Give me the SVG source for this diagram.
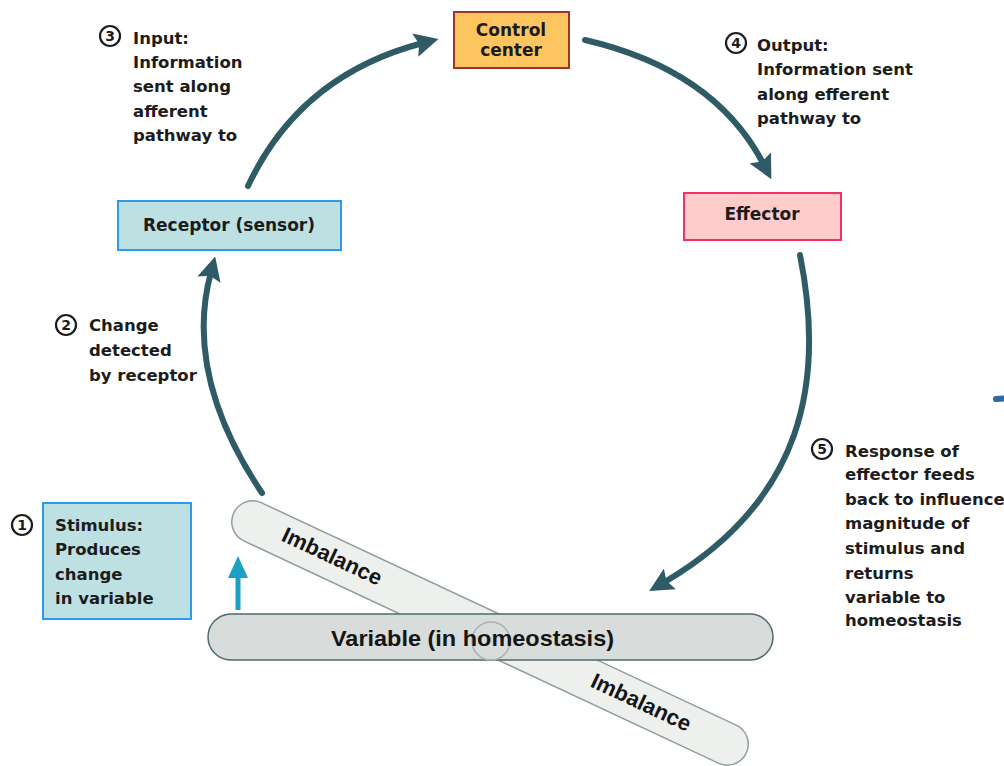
<svg xmlns="http://www.w3.org/2000/svg" width="1004" height="766" viewBox="0 0 1004 766">
<style>
.t{font-family:"DejaVu Sans",Verdana,sans-serif;font-weight:bold;font-size:16.5px;fill:#1c1c1c}
.lbl{font-family:"DejaVu Sans",Verdana,sans-serif;font-weight:bold;font-size:17px;fill:#1c1c1c;text-anchor:middle}
.num{fill:#fff;stroke:#1c1c1c;stroke-width:2.2}
.numt{font-family:"DejaVu Sans",sans-serif;font-weight:bold;font-size:14px;fill:#1c1c1c;text-anchor:middle}
.arc{fill:none;stroke:#2e5b66;stroke-width:6;stroke-linecap:round}
.bar{font-family:"Liberation Sans",Arial,sans-serif;font-weight:bold;fill:#151515}
</style>
<defs>
<marker id="ah" viewBox="0 0 24 24" markerWidth="24" markerHeight="24" markerUnits="userSpaceOnUse" refX="8" refY="12" orient="auto">
<path d="M0,0 L24,12 L0,24 L4,12 Z" fill="#2e5b66"/>
</marker>
</defs>
<rect width="1004" height="766" fill="#fff"/>

<g id="imbalance">
<rect x="207" y="612" width="566" height="42" rx="21" transform="rotate(25.1 490 633)" fill="#eef0ee" stroke="#8f9e9c" stroke-width="1.5"/>
<text class="bar" font-size="22" text-anchor="middle" transform="translate(329 563) rotate(25.1)">Imbalance</text>
<text class="bar" font-size="22" text-anchor="middle" transform="translate(638 709) rotate(25.1)">Imbalance</text>
</g>

<g id="variable">
<rect x="208" y="614" width="565" height="46" rx="23" fill="#d8dcda" stroke="#4e6a70" stroke-width="1.5"/>
<circle cx="491" cy="641" r="19" fill="none" stroke="#a9b2b0" stroke-width="1.5"/>
<text class="bar" x="331" y="646" font-size="22" textLength="283" lengthAdjust="spacingAndGlyphs">Variable (in homeostasis)</text>
</g>

<g id="connectors">
<path class="arc" d="M262,493 Q183,375 211,272" marker-end="url(#ah)"/>
<path class="arc" d="M248,186 Q300,75 423,43" marker-end="url(#ah)"/>
<path class="arc" d="M585,40 Q715,70 764,165" marker-end="url(#ah)"/>
<path class="arc" d="M800,255 C825,380 805,500 663,583" marker-end="url(#ah)"/>
<line x1="238" y1="610" x2="238" y2="575" stroke="#1ba1c6" stroke-width="5"/>
<polygon points="228,578 238,556 248,578" fill="#1ba1c6"/>
<line x1="996" y1="399" x2="1004" y2="398.5" stroke="#2f6aa0" stroke-width="6" stroke-linecap="round"/>
</g>

<g id="control-center">
<rect x="454" y="12" width="115" height="56" fill="#fdc560" stroke="#a3312a" stroke-width="2"/>
<text class="lbl" x="511" y="36">Control</text>
<text class="lbl" x="511" y="56">center</text>
</g>

<g id="receptor">
<rect x="118" y="201" width="223" height="49" fill="#bde0e3" stroke="#2e9be8" stroke-width="2"/>
<text class="lbl" x="229" y="231" font-size="16.5">Receptor (sensor)</text>
</g>

<g id="effector">
<rect x="684" y="193" width="157" height="47" fill="#ffcccc" stroke="#f0306a" stroke-width="2"/>
<text class="lbl" x="762" y="220">Effector</text>
</g>

<g id="stimulus">
<circle class="num" cx="22" cy="525" r="10"/>
<text class="numt" x="22" y="530">1</text>
<rect x="43" y="503" width="148" height="116" fill="#bde0e3" stroke="#2e9be8" stroke-width="2"/>
<text class="t" x="55" y="531" font-size="16">Stimulus:</text>
<text class="t" x="55" y="555" font-size="16">Produces</text>
<text class="t" x="55" y="580" font-size="16">change</text>
<text class="t" x="55" y="604" font-size="16">in variable</text>
</g>

<g id="step2">
<circle class="num" cx="66" cy="325" r="10"/>
<text class="numt" x="66" y="330">2</text>
<text class="t" x="89" y="331">Change</text>
<text class="t" x="89" y="356">detected</text>
<text class="t" x="89" y="381">by receptor</text>
</g>

<g id="step3">
<circle class="num" cx="110" cy="36" r="10"/>
<text class="numt" x="110" y="41">3</text>
<text class="t" x="133" y="44">Input:</text>
<text class="t" x="133" y="68">Information</text>
<text class="t" x="133" y="92">sent along</text>
<text class="t" x="133" y="117">afferent</text>
<text class="t" x="133" y="141">pathway to</text>
</g>

<g id="step4">
<circle class="num" cx="736" cy="43" r="10"/>
<text class="numt" x="736" y="48">4</text>
<text class="t" x="757" y="51">Output:</text>
<text class="t" x="757" y="75">Information sent</text>
<text class="t" x="757" y="100">along efferent</text>
<text class="t" x="757" y="124">pathway to</text>
</g>

<g id="step5">
<circle class="num" cx="822" cy="449" r="10"/>
<text class="numt" x="822" y="454">5</text>
<text class="t" x="845" y="457">Response of</text>
<text class="t" x="845" y="480">effector feeds</text>
<text class="t" x="845" y="505">back to influence</text>
<text class="t" x="845" y="529">magnitude of</text>
<text class="t" x="845" y="554">stimulus and</text>
<text class="t" x="845" y="579">returns</text>
<text class="t" x="845" y="603">variable to</text>
<text class="t" x="845" y="626">homeostasis</text>
</g>
</svg>
